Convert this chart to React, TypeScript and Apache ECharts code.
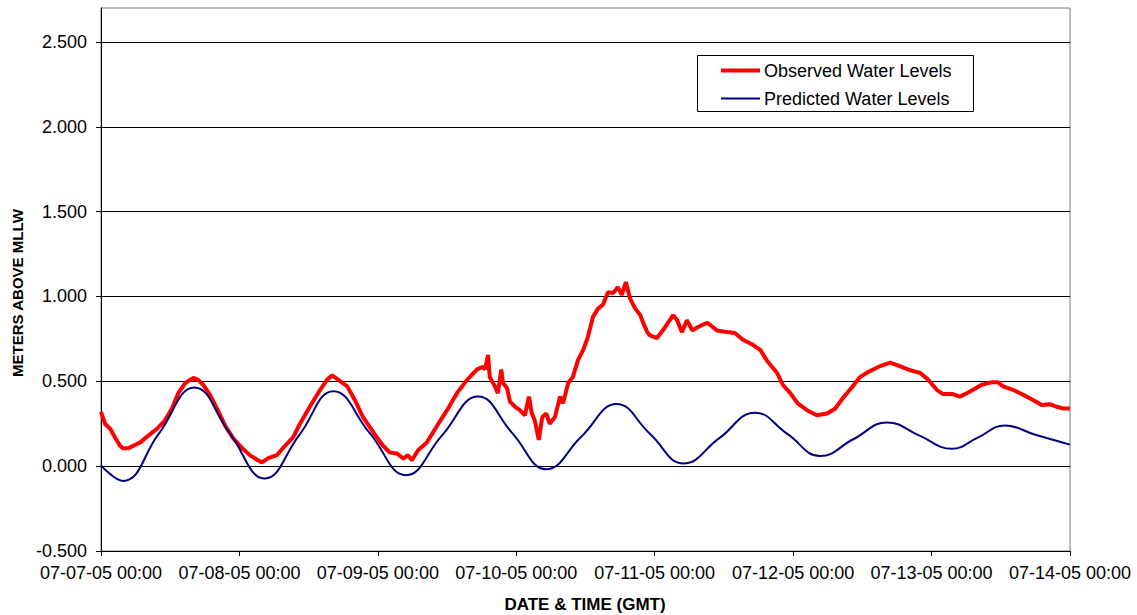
import React, { useEffect, useRef } from "react";
import * as echarts from "echarts";

// X tick labels (one per day, every 24 hours from 07-07-05 00:00 GMT)
const xTickLabels = [
  "07-07-05 00:00",
  "07-08-05 00:00",
  "07-09-05 00:00",
  "07-10-05 00:00",
  "07-11-05 00:00",
  "07-12-05 00:00",
  "07-13-05 00:00",
  "07-14-05 00:00",
];
const yTickValues = [-0.5, 0, 0.5, 1.0, 1.5, 2.0, 2.5];

// Observed water levels: hours since 07-07-05 00:00, meters above MLLW
const obsHours = [
  0, 0.7, 1.6, 2.4, 3.3, 3.8, 4.7, 5.6, 6.8, 8.2, 9.7, 11.1, 12.3, 13.4, 14.6, 16.0, 16.8, 17.7,
  18.9, 20.1, 21.5, 22.9, 24.5, 25.8, 27.2, 27.9, 29.0, 30.5, 31.9, 33.3, 34.5, 36.2, 38.0, 39.2,
  40.1, 41.1, 42.7, 44.0, 45.4, 47.2, 48.9, 50.1, 51.3, 52.4, 53.2, 53.9, 55.0, 56.5, 58.3, 60.0,
  61.7, 63.5, 65.2, 66.2, 66.6, 67.1, 67.4, 68.3, 68.8, 69.4, 69.7, 70.4, 70.9, 71.8, 72.6, 73.5,
  74.2, 74.7, 75.2, 75.9, 76.5, 77.2, 77.8, 78.7, 79.6, 80.1, 81.0, 81.8, 82.7, 83.6, 84.4, 85.3,
  86.2, 87.0, 87.9, 88.8, 89.6, 90.3, 91.0, 91.7, 92.6, 93.5, 94.0, 94.7, 95.2, 96.4, 97.4, 98.3,
  99.2, 99.9, 100.7, 101.6, 102.5, 103.5, 105.1, 106.8, 108.5, 109.9, 111.3, 113.0, 114.3, 115.6,
  117.2, 118.2, 119.5, 120.8, 122.4, 124.1, 125.9, 127.3, 128.6, 130.2, 131.6, 133.0, 135.1, 136.8,
  138.5, 140.3, 142.0, 143.4, 144.9, 146.0, 147.7, 148.9, 150.1, 151.2, 152.7, 154.5, 155.5, 156.4,
  158.1, 159.9, 161.6, 163.1, 164.5, 165.7, 166.8, 168.0,
];
const obsLevels = [
  0.32, 0.25, 0.22, 0.17, 0.12, 0.105, 0.105, 0.12, 0.14, 0.18, 0.22, 0.27, 0.34, 0.43, 0.49, 0.52,
  0.51, 0.48, 0.42, 0.34, 0.24, 0.165, 0.105, 0.065, 0.035, 0.022, 0.047, 0.065, 0.12, 0.17, 0.25,
  0.35, 0.45, 0.51, 0.535, 0.51, 0.47, 0.39, 0.29, 0.2, 0.12, 0.08, 0.075, 0.045, 0.065, 0.035,
  0.095, 0.14, 0.24, 0.33, 0.43, 0.51, 0.57, 0.585, 0.57, 0.655, 0.525, 0.47, 0.43, 0.57, 0.49,
  0.46, 0.38, 0.35, 0.33, 0.3, 0.41, 0.31, 0.27, 0.155, 0.29, 0.31, 0.25, 0.29, 0.41, 0.37, 0.49,
  0.525, 0.625, 0.685, 0.76, 0.88, 0.93, 0.95, 1.025, 1.02, 1.055, 1.01, 1.085, 0.99, 0.93, 0.89,
  0.845, 0.79, 0.77, 0.755, 0.8, 0.845, 0.89, 0.86, 0.79, 0.86, 0.8, 0.82, 0.845, 0.8, 0.79,
  0.785, 0.745, 0.715, 0.685, 0.615, 0.55, 0.48, 0.43, 0.37, 0.33, 0.3, 0.31, 0.34, 0.4, 0.465,
  0.525, 0.555, 0.59, 0.61, 0.59, 0.565, 0.55, 0.51, 0.45, 0.425, 0.425, 0.41, 0.43, 0.45, 0.48,
  0.495, 0.495, 0.47, 0.45, 0.42, 0.39, 0.36, 0.365, 0.35, 0.34, 0.34,
];

// Predicted water levels (extremes and mid-tide points)
const predHours = [
  0, 3.8, 10.0, 16.2, 22.3, 28.4, 34.4, 40.3, 46.6, 52.9, 59.1, 65.4, 71.3, 77.2, 83.3, 89.4, 95.2,
  101.0, 107.2, 113.4, 119.0, 124.7, 130.5, 136.3, 141.9, 147.5, 152.1, 156.7, 162.0, 168.0,
];
const predLevels = [
  0.005, -0.087, 0.19, 0.464, 0.195, -0.073, 0.185, 0.442, 0.195, -0.053, 0.18, 0.41, 0.195,
  -0.018, 0.175, 0.366, 0.19, 0.016, 0.165, 0.315, 0.19, 0.06, 0.16, 0.258, 0.18, 0.102, 0.17,
  0.24, 0.185, 0.127,
];

const FONT = "'Liberation Sans', Arial, sans-serif";

export default function App() {
  const ref = useRef<HTMLDivElement>(null);
  useEffect(() => {
    if (!ref.current) return;
    const chart = echarts.init(ref.current, undefined, { renderer: "svg" });
    const obsData = obsHours.map((h, i) => [h, obsLevels[i]]);
    const predData = predHours.map((h, i) => [h, predLevels[i]]);
    chart.setOption({
      animation: false,
      backgroundColor: "#ffffff",
      textStyle: { fontFamily: FONT },
      grid: {
        left: 101,
        right: 67,
        top: 8,
        bottom: 64,
        show: true,
        borderColor: "#777777",
        borderWidth: 1,
      },
      xAxis: {
        type: "value",
        min: 0,
        max: 168,
        interval: 24,
        axisLine: { show: true, onZero: false, lineStyle: { color: "#000", width: 1 } },
        axisTick: { show: true, length: 5, lineStyle: { color: "#000" } },
        splitLine: { show: false },
        axisLabel: {
          color: "#000",
          fontSize: 18,
          fontFamily: FONT,
          margin: 13,
          formatter: (v: number) => xTickLabels[Math.round(v / 24)] ?? "",
        },
      },
      yAxis: {
        type: "value",
        min: -0.5,
        max: 2.7,
        interval: 0.5,
        axisLine: { show: true, lineStyle: { color: "#000", width: 1 } },
        axisTick: { show: true, length: 5, lineStyle: { color: "#000" }, customValues: yTickValues },
        splitLine: { show: true, lineStyle: { color: "#000", width: 1 } },
        axisLabel: {
          color: "#000",
          fontSize: 18,
          fontFamily: FONT,
          margin: 14,
          customValues: yTickValues,
          formatter: (v: number) => v.toFixed(3),
        },
      },
      series: [
        {
          name: "Observed Water Levels",
          type: "line",
          data: obsData,
          showSymbol: false,
          symbol: "none",
          smooth: false,
          lineStyle: { color: "#ff0000", width: 4 },
          z: 2,
        },
        {
          name: "Predicted Water Levels",
          type: "line",
          data: predData,
          showSymbol: false,
          symbol: "none",
          smooth: 0.45,
          lineStyle: { color: "#000080", width: 2 },
          z: 3,
        },
      ],
      graphic: [
        {
          type: "rect",
          shape: { x: 697.5, y: 55.5, width: 276, height: 56 },
          style: { fill: "#fff", stroke: "#000", lineWidth: 1 },
          z: 10,
        },
        {
          type: "line",
          shape: { x1: 721, y1: 70.5, x2: 760, y2: 70.5 },
          style: { stroke: "#ff0000", lineWidth: 4 },
          z: 11,
        },
        {
          type: "line",
          shape: { x1: 721, y1: 98.5, x2: 760, y2: 98.5 },
          style: { stroke: "#000080", lineWidth: 2 },
          z: 11,
        },
        {
          type: "text",
          x: 764,
          y: 71,
          style: {
            text: "Observed Water Levels",
            fill: "#000",
            font: `18px ${FONT}`,
            verticalAlign: "middle",
            align: "left",
          },
          z: 11,
        },
        {
          type: "text",
          x: 764,
          y: 99,
          style: {
            text: "Predicted Water Levels",
            fill: "#000",
            font: `18px ${FONT}`,
            verticalAlign: "middle",
            align: "left",
          },
          z: 11,
        },
        {
          type: "text",
          x: 585,
          y: 604,
          style: {
            text: "DATE & TIME (GMT)",
            fill: "#000",
            font: `bold 17px ${FONT}`,
            align: "center",
            verticalAlign: "middle",
          },
        },
        {
          type: "text",
          x: 17,
          y: 293,
          rotation: Math.PI / 2,
          style: {
            text: "METERS ABOVE MLLW",
            fill: "#000",
            font: `bold 15px ${FONT}`,
            align: "center",
            verticalAlign: "middle",
          },
        },
      ],
    });
    return () => chart.dispose();
  }, []);
  return (
    <div
      ref={ref}
      style={{ position: "absolute", left: 0, top: 0, width: 1137, height: 615 }}
    />
  );
}
